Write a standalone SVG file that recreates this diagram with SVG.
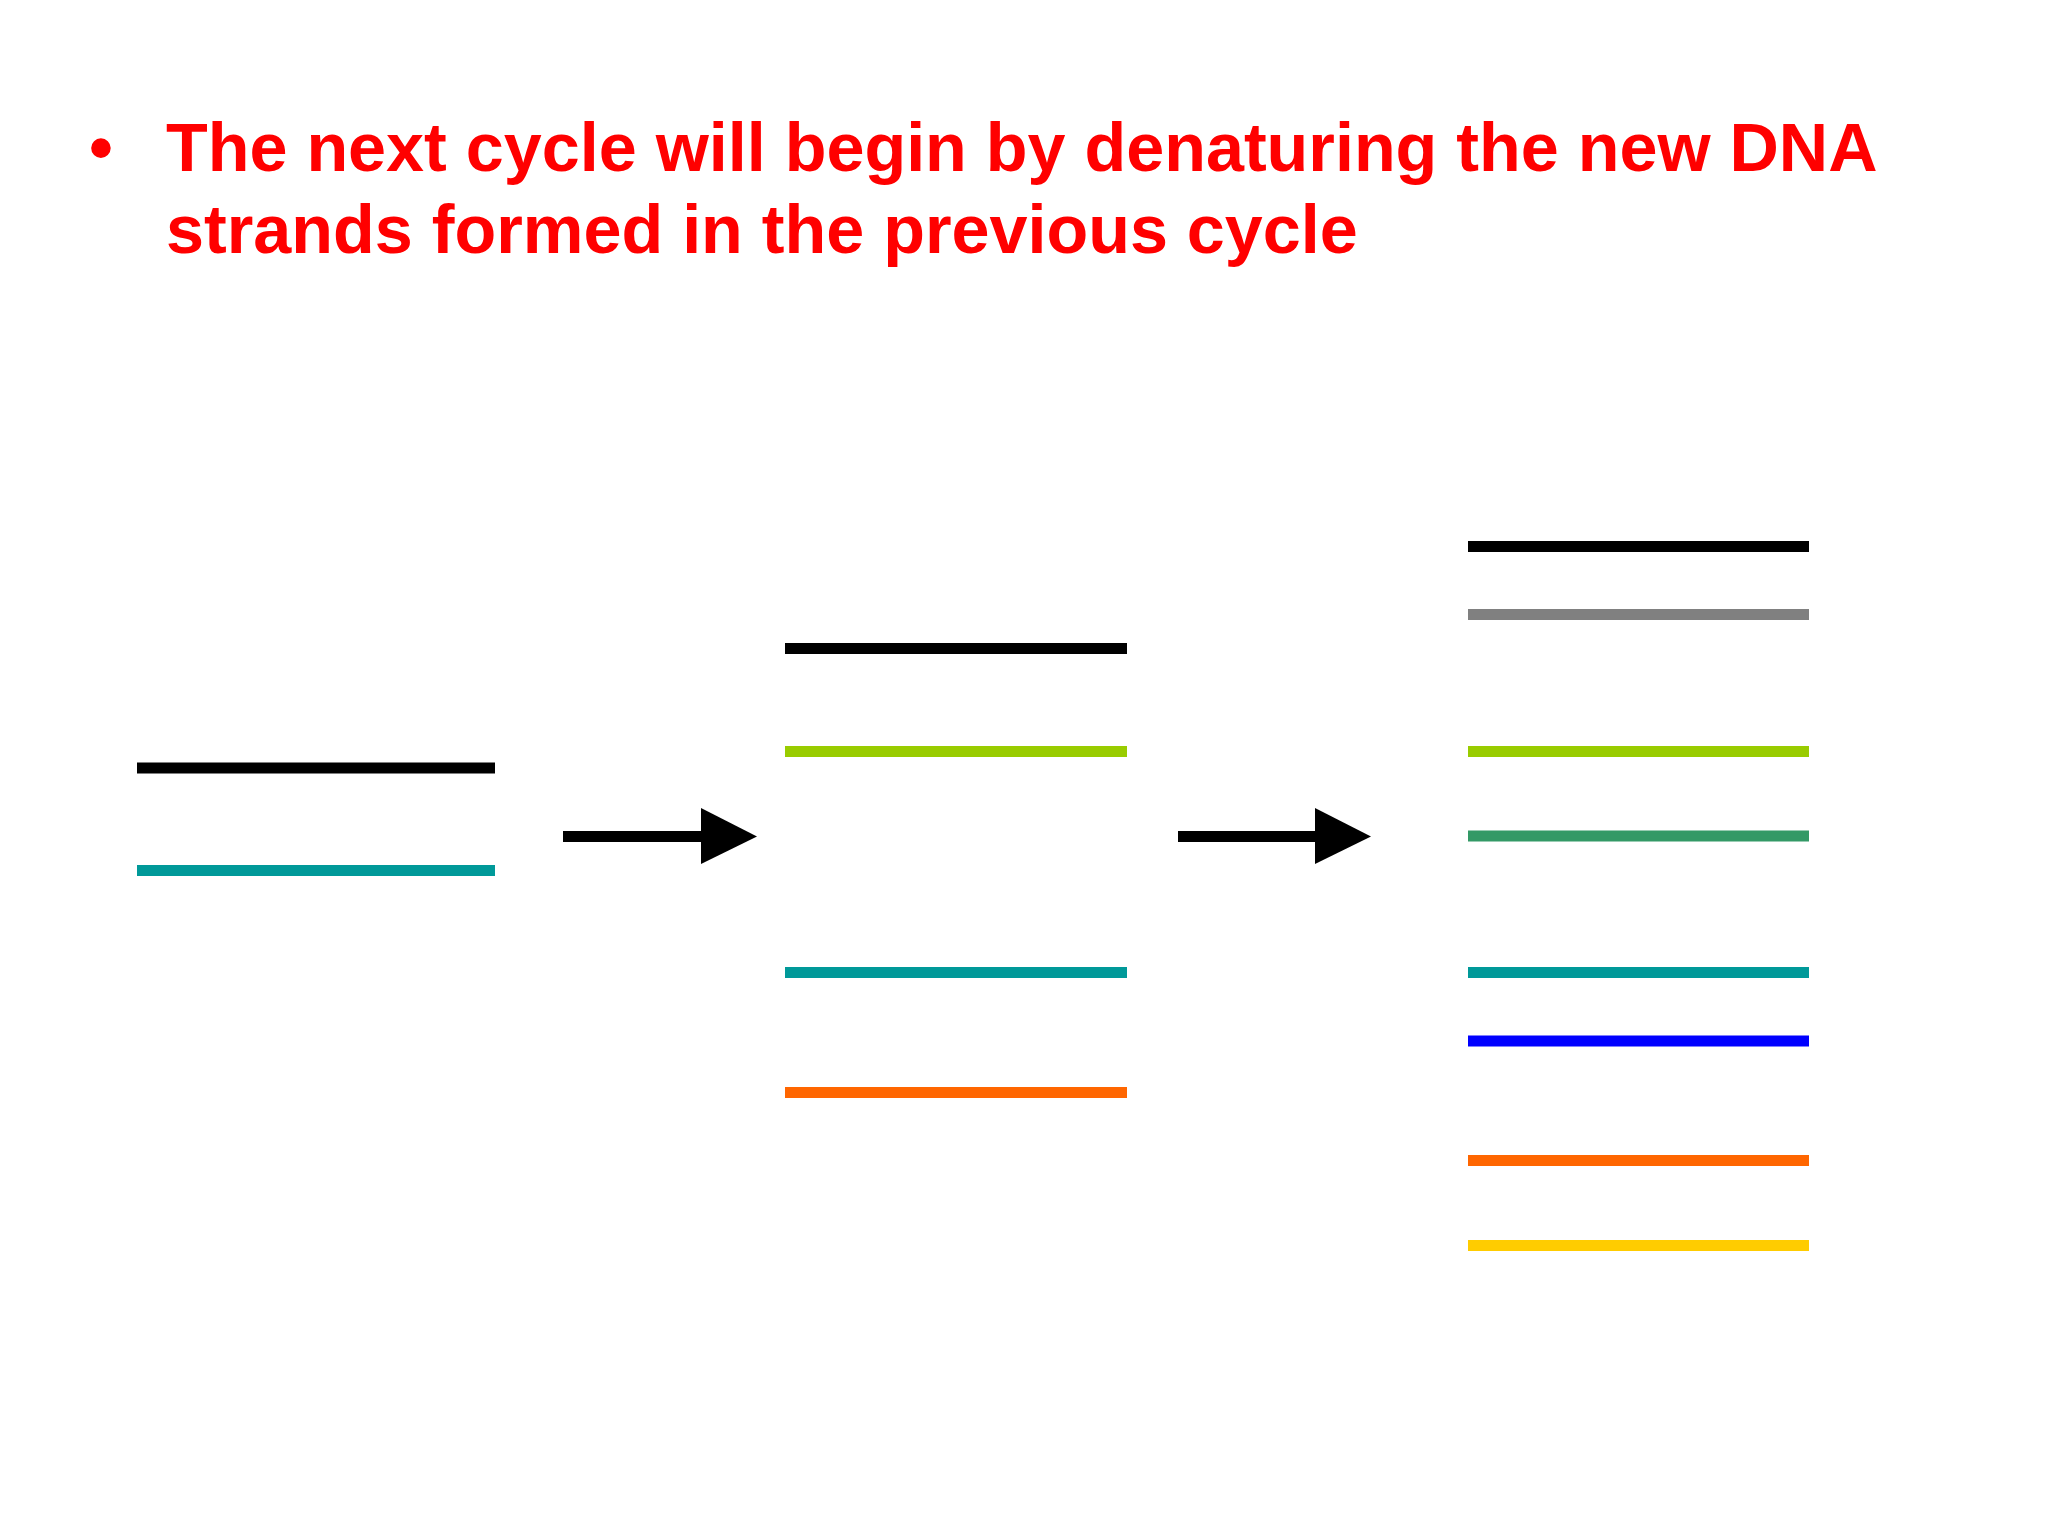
<svg xmlns="http://www.w3.org/2000/svg" width="2048" height="1536" viewBox="0 0 2048 1536">
<style>
.t{font-family:"Liberation Sans",Arial,sans-serif;font-weight:bold;font-size:68.3px;fill:#FF0000}
.s{stroke-width:11;fill:none}
.k{stroke:#000000}.tl{stroke:#009999}.gn{stroke:#99CC00}.or{stroke:#FF6600}
.gy{stroke:#808080}.sg{stroke:#339966}.bl{stroke:#0000FF}.yl{stroke:#FFCC00}
</style>
<rect width="2048" height="1536" fill="#FFFFFF"/>
<g id="title">
<text class="t" x="101" y="171" text-anchor="middle">•</text>
<text class="t" x="166" y="171">The next cycle will begin by denaturing the new DNA</text>
<text class="t" x="166" y="253">strands formed in the previous cycle</text>
</g>
<g id="cycle0">
<line class="s k" x1="137" y1="768" x2="495" y2="768"/>
<line class="s tl" x1="137" y1="870.5" x2="495" y2="870.5"/>
</g>
<g id="cycle1">
<line class="s k" x1="785" y1="648.5" x2="1127" y2="648.5"/>
<line class="s gn" x1="785" y1="751.5" x2="1127" y2="751.5"/>
<line class="s tl" x1="785" y1="972.5" x2="1127" y2="972.5"/>
<line class="s or" x1="785" y1="1092.5" x2="1127" y2="1092.5"/>
</g>
<g id="cycle2">
<line class="s k" x1="1468" y1="546.5" x2="1809" y2="546.5"/>
<line class="s gy" x1="1468" y1="614.5" x2="1809" y2="614.5"/>
<line class="s gn" x1="1468" y1="751.5" x2="1809" y2="751.5"/>
<line class="s sg" x1="1468" y1="836" x2="1809" y2="836"/>
<line class="s tl" x1="1468" y1="972.5" x2="1809" y2="972.5"/>
<line class="s bl" x1="1468" y1="1041" x2="1809" y2="1041"/>
<line class="s or" x1="1468" y1="1160.5" x2="1809" y2="1160.5"/>
<line class="s yl" x1="1468" y1="1245.5" x2="1809" y2="1245.5"/>
</g>
<g id="connectors">
<line class="s k" x1="563" y1="836.5" x2="705" y2="836.5"/>
<polygon points="701,808 757,836.5 701,864" fill="#000000"/>
<line class="s k" x1="1178" y1="836.5" x2="1319" y2="836.5"/>
<polygon points="1315,808 1371,836.5 1315,864" fill="#000000"/>
</g>
</svg>
